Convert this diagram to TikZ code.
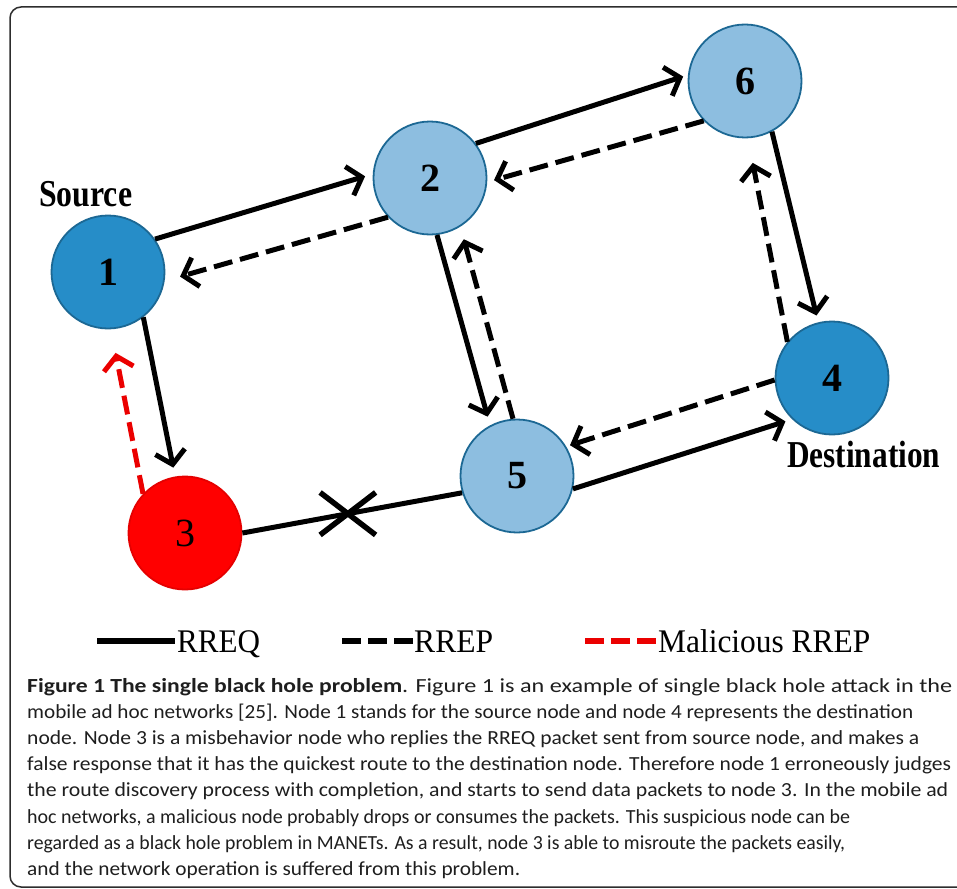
\documentclass[tikz,border=0pt]{standalone}
\usepackage{fontspec}
\setmainfont{Liberation Serif}
\newfontfamily\capfont{Carlito}
\usetikzlibrary{arrows.meta,shapes.misc}
\definecolor{darkblue}{RGB}{38,141,200}
\definecolor{lightblue}{RGB}{141,190,224}
\definecolor{rimblue}{RGB}{28,104,148}
\definecolor{mred}{RGB}{255,0,0}
\definecolor{framegray}{RGB}{45,45,45}
\definecolor{captext}{RGB}{30,30,30}
\newsavebox\fitbox
\newlength\fitlen
\newcommand\fitto[2]{\sbox\fitbox{#2}\setlength\fitlen{\wd\fitbox}\pgfmathsetmacro\fitr{#1/\fitlen}\scalebox{\fitr}[1]{\usebox\fitbox}}
\tikzset{
  bnode/.style={circle, minimum size=113pt, inner sep=0pt, draw=rimblue, line width=1.8pt,
    font=\bfseries\fontsize{40}{40}\selectfont},
  dnode/.style={bnode, fill=darkblue},
  lnode/.style={bnode, fill=lightblue},
  rnode/.style={bnode, fill=mred, draw=mred!90!black, font=\fontsize{40}{40}\selectfont},
  edge/.style={line width=5pt, -{Straight Barb[length=13pt,width=30pt]}},
  reqedge/.style={edge},
  repedge/.style={edge, dash pattern=on 19pt off 8pt},
  maledge/.style={repedge, draw=mred!92!black},
  labeltext/.style={anchor=base west, inner sep=0pt, font=\bfseries\fontsize{38}{38}\selectfont},
  legtext/.style={anchor=base west, inner sep=0pt, font=\fontsize{33}{33}\selectfont},
  capline/.style={anchor=base west, inner sep=0pt, text=captext, font=\capfont\fontsize{20}{20}\selectfont},
}
\begin{document}
\begin{tikzpicture}[x=1pt,y=-1pt]
\useasboundingbox (0,0) rectangle (957,888);
\clip (0,0) rectangle (957,888);
% frame
\draw[framegray, line width=1.5pt, rounded corners=11pt] (990,887) -- (10,887) -- (10,7) -- (990,7);
% nodes
\node[dnode] (n1) at (108,272) {1};
\node[lnode] (n2) at (430,178) {2};
\node[lnode] (n6) at (745,81) {6};
\node[dnode] (n4) at (832,378) {4};
\node[lnode] (n5) at (517,476) {5};
\node[rnode] (n3) at (185,533) {3};
% labels
\node[labeltext] (src) at (39,206) {\fitto{93}{Source}};
\node[labeltext] (dst) at (787,467) {\fitto{153}{Destination}};
% edges
\draw[reqedge, shorten >=8pt] (n1.35) -- (n2.176);
\draw[repedge, shorten >=16pt] (n2.223) -- (n1.-9);
\draw[reqedge, shorten >=5pt] (n2.37) -- (n6.174);
\draw[repedge, shorten >=7pt] (n6.224) -- (n2.-4);
\draw[reqedge, shorten >=7pt] (n6.-62) -- (n4.104);
\draw[repedge, shorten >=25pt] (n4.141) -- (n6.-87);
\draw[reqedge, shorten >=9pt] (n2.-83) -- (n5.118);
\draw[repedge, shorten >=13pt] (n5.94) -- (n2.-58);
\draw[reqedge, shorten >=7pt] (n5.-13) -- (n4.226);
\draw[repedge, shorten >=4pt] (n4.182) -- (n5.31);
\draw[reqedge, shorten >=9pt] (n1.-52) -- (n3.100);
\draw[maledge, shorten >=24pt] (n3.137) -- (n1.-87);
\draw[line width=5pt] (n3.0) -- node[pos=0.48, cross out, draw, line width=5.5pt, minimum width=50pt, minimum height=37pt, inner sep=0pt] (xmark) {} (n5.197);
% legend
\coordinate (l1a) at (97,641); \coordinate (l1b) at (175,641);
\coordinate (l2a) at (342,641); \coordinate (l2b) at (413,641);
\coordinate (l3a) at (585,641); \coordinate (l3b) at (657,641);
\draw[line width=6pt] (l1a) -- (l1b);
\draw[line width=6pt, dash pattern=on 19pt off 7pt] (l2a) -- (l2b);
\draw[line width=6pt, mred!92!black, dash pattern=on 19pt off 7pt] (l3a) -- (l3b);
\node[legtext] (t1) at (177,652) {\fitto{83}{RREQ}};
\node[legtext] (t2) at (414,652) {\fitto{79}{RREP}};
\node[legtext] (t3) at (658,652) {\fitto{212}{Malicious RREP}};
% caption
\node[capline] (c1) at (27,692) {\fitto{375}{\bfseries Figure 1 The single black hole problem}\fitto{550}{. Figure 1 is an example of single black hole attack in the}};
\node[capline] (c2) at (27,718.2) {\fitto{886}{mobile ad hoc networks [25]. Node 1 stands for the source node and node 4 represents the destination}};
\node[capline] (c3) at (27,744.4) {\fitto{892}{node. Node 3 is a misbehavior node who replies the RREQ packet sent from source node, and makes a}};
\node[capline] (c4) at (27,770.6) {\fitto{924}{false response that it has the quickest route to the destination node. Therefore node 1 erroneously judges}};
\node[capline] (c5) at (27,796.8) {\fitto{921}{the route discovery process with completion, and starts to send data packets to node 3. In the mobile ad}};
\node[capline] (c6) at (27,823) {\fitto{823}{hoc networks, a malicious node probably drops or consumes the packets. This suspicious node can be}};
\node[capline] (c7) at (27,849.2) {\fitto{818}{regarded as a black hole problem in MANETs. As a result, node 3 is able to misroute the packets easily,}};
\node[capline] (c8) at (27,875.4) {\fitto{493}{and the network operation is suffered from this problem.}};
\end{tikzpicture}
\end{document}
